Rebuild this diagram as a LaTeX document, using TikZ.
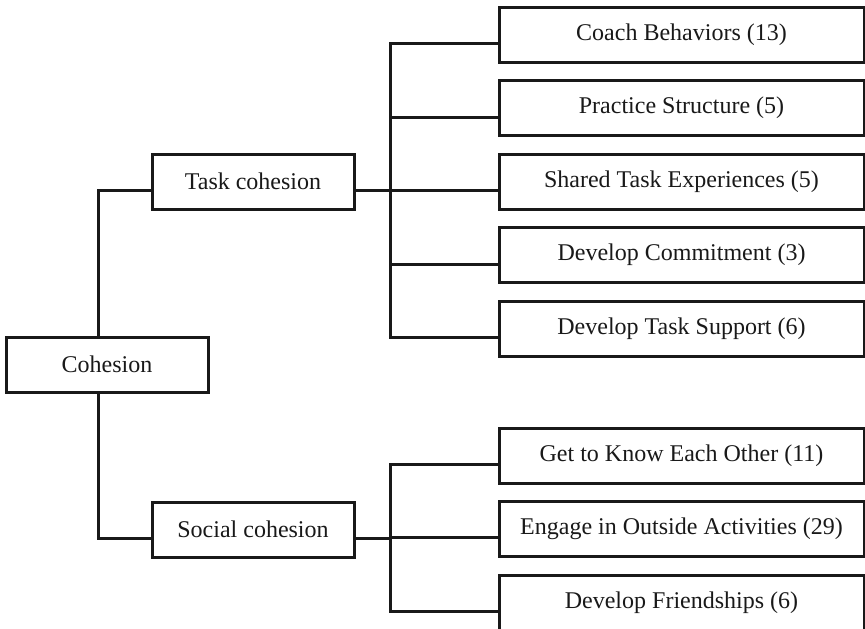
\documentclass[tikz,border=0pt]{standalone}
\usepackage{fontspec}
\setmainfont{Liberation Serif}
\usetikzlibrary{positioning}
\begin{document}
\begin{tikzpicture}[x=1pt,y=-1pt,
  box/.style={draw=black!90, line width=3pt, rectangle, inner sep=0pt,
    font=\fontsize{24}{28}\selectfont, text=black!90},
  small/.style={box, minimum width=202pt, minimum height=55pt},
  leaf/.style={box, minimum width=365pt, minimum height=55pt},
  conn/.style={draw=black!90, line width=3pt}]
\useasboundingbox (0,0) rectangle (865,629);
\node[small] (coh) at (107,364.5) {Cohesion};
\node[small] (task) at (253,181.5) {Task cohesion};
\node[small] (soc) at (253,529.5) {Social cohesion};
\node[leaf] (coach) at (681.5,34.5) {Coach Behaviors (13)};
\node[leaf] (prac) at (681.5,108) {Practice Structure (5)};
\node[leaf] (shared) at (681.5,181.5) {Shared Task Experiences (5)};
\node[leaf] (commit) at (681.5,255) {Develop Commitment (3)};
\node[leaf] (supp) at (681.5,328.5) {Develop Task Support (6)};
\node[leaf] (know) at (681.5,455.5) {Get to Know Each Other (11)};
\node[leaf] (eng) at (681.5,529) {Engage in Outside Activities (29)};
\node[leaf] (friend) at (681.5,602.5) {Develop Friendships (6)};
% cohesion to subcategories
\draw[conn] ([xshift=-9pt]coh.north) |- ([yshift=-9pt]task.west);
\draw[conn] ([xshift=-9pt]coh.south) |- ([yshift=-8.5pt]soc.west);
% task cohesion tree
\foreach \n in {coach,prac,shared,commit,supp}
  \draw[conn] ([yshift=-9pt]\n.west) -| ([xshift=35pt,yshift=-9pt]task.east);
\draw[conn] ([yshift=-9pt]task.east) -- ([xshift=35pt,yshift=-9pt]task.east);
% social cohesion tree
\foreach \n in {know,eng,friend}
  \draw[conn] ([yshift=-8.5pt]\n.west) -| ([xshift=35pt,yshift=-8.5pt]soc.east);
\draw[conn] ([yshift=-8.5pt]soc.east) -- ([xshift=35pt,yshift=-8.5pt]soc.east);
\end{tikzpicture}
\end{document}
